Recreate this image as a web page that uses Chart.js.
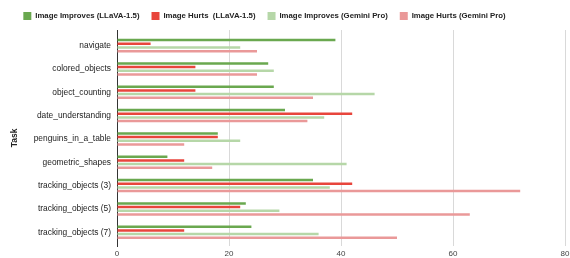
<!DOCTYPE html>
<html>
<head>
<meta charset="utf-8">
<script src="https://cdn.jsdelivr.net/npm/chart.js@4/dist/chart.umd.min.js"></script>
<style>
  html, body { margin: 0; padding: 0; background: #fff; }
  #wrap { width: 570px; height: 258px; position: relative; }
</style>
</head>
<body>
<div id="wrap"><canvas id="c"></canvas></div>
<script>
const tareas = ['navigate', 'colored_objects', 'object_counting', 'date_understanding',
  'penguins_in_a_table', 'geometric_shapes', 'tracking_objects (3)', 'tracking_objects (5)', 'tracking_objects (7)'];
const mejoraLlava  = [39, 27, 28, 30, 18, 9, 35, 23, 24];
const empeoraLlava = [6, 14, 14, 42, 18, 12, 42, 22, 12];
const mejoraGemini = [22, 28, 46, 37, 22, 41, 38, 29, 36];
const empeoraGemini = [25, 25, 35, 34, 12, 17, 72, 63, 50];
const ticksX = [0, 20, 40, 60, 80];

const serie = (label, data, color) => ({
  label, data, backgroundColor: color, borderWidth: 0,
  categoryPercentage: 0.63, barPercentage: 0.68,
});

// corre la leyenda un poco a la izquierda, como en el original
const moverLeyenda = {
  id: 'moverLeyenda',
  afterLayout(chart) {
    if (chart.legend) chart.legend.right -= 46;
  },
};

new Chart(document.getElementById('c'), {
  type: 'bar',
  data: {
    labels: tareas,
    datasets: [
      serie('Image Improves (LLaVA-1.5)', mejoraLlava, '#6aa84f'),
      serie('Image Hurts  (LLaVA-1.5)', empeoraLlava, '#e8453c'),
      serie('Image Improves (Gemini Pro)', mejoraGemini, '#b6d7a8'),
      serie('Image Hurts (Gemini Pro)', empeoraGemini, '#ea9999'),
    ],
  },
  plugins: [moverLeyenda],
  options: {
    indexAxis: 'y',
    responsive: true,
    maintainAspectRatio: false,
    animation: false,
    layout: { padding: { left: 10, right: 5, top: 0, bottom: -4 } },
    scales: {
      x: {
        min: 0, max: 80,
        afterBuildTicks: ax => { ax.ticks = ticksX.map(v => ({ value: v })); },
        afterFit: s => { s.paddingRight = 0; },
        grid: { color: '#d9d9d9', lineWidth: 1, drawTicks: false, tickLength: 0 },
        border: { display: false },
        ticks: { color: '#444', font: { family: 'Liberation Sans', size: 8, lineHeight: 1 }, padding: 4 },
      },
      y: {
        // margen arriba/abajo como en Sheets (primer grupo más abajo del borde)
        afterFit: s => { s._startValue = -0.67; s._valueRange = 9.26; },
        grid: { display: false, drawTicks: false, tickLength: 0 },
        border: { display: true, color: '#333', width: 1 },
        ticks: { color: '#222', font: { family: 'Liberation Sans', size: 8.4 }, padding: 6 },
        title: { display: true, text: 'Task', color: '#222', font: { family: 'Liberation Sans', size: 8.5, weight: 'bold' }, padding: { top: 0, bottom: 7.5 } },
      },
    },
    plugins: {
      legend: {
        position: 'top',
        labels: {
          boxWidth: 8, boxHeight: 8, padding: 12,
          color: '#222',
          font: { family: 'Liberation Sans', size: 7.8, weight: 'bold' },
        },
      },
      tooltip: { enabled: false },
    },
  },
});
</script>
</body>
</html>
